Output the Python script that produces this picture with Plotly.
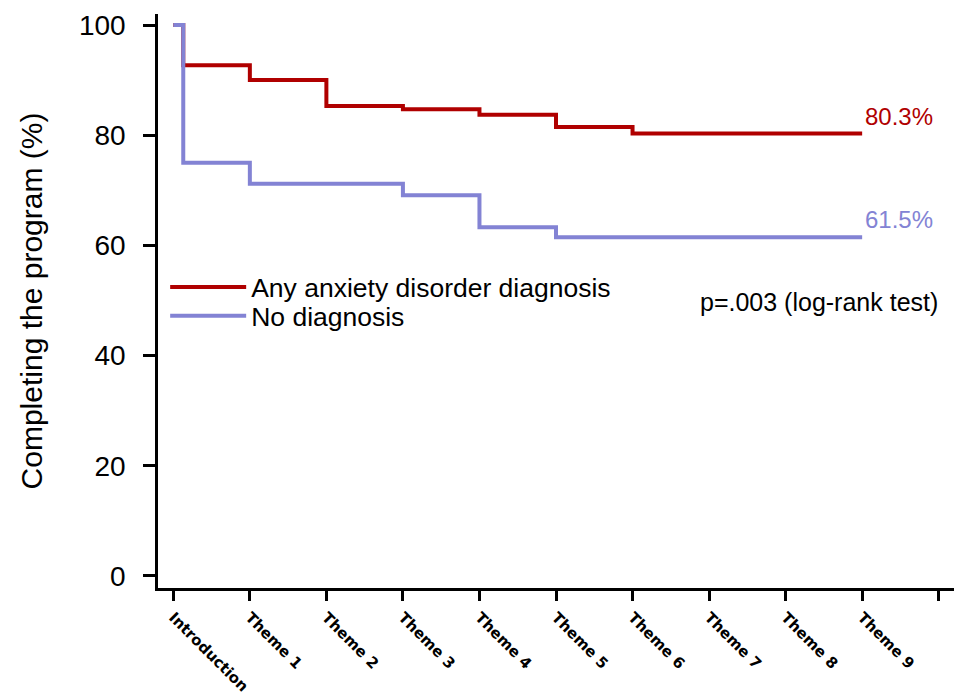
import plotly.graph_objects as go

# ---- data ----
stage_labels = ["Introduction", "Theme 1", "Theme 2", "Theme 3", "Theme 4",
                "Theme 5", "Theme 6", "Theme 7", "Theme 8", "Theme 9", ""]
stage_ticks = [0, 1, 2, 3, 4, 5, 6, 7, 8, 9, 10]

anx_x = [0, 0.13, 1, 2, 3, 4, 5, 6, 9]
anx_y = [100, 92.7, 90.0, 85.3, 84.7, 83.7, 81.5, 80.3, 80.3]

nod_x = [0, 0.13, 1, 3, 4, 5, 9]
nod_y = [100, 75.0, 71.2, 69.1, 63.3, 61.5, 61.5]

anx_name = "Any anxiety disorder diagnosis"
nod_name = "No diagnosis"
anx_end_label = "80.3%"
nod_end_label = "61.5%"
p_text = "p=.003 (log-rank test)"

RED = "#b00000"
BLUE = "#8383d4"
FONT = "Liberation Sans, Arial, sans-serif"

fig = go.Figure()
fig.add_trace(go.Scatter(x=anx_x, y=anx_y, mode="lines", line_shape="hv",
                         line=dict(color=RED, width=4), name=anx_name,
                         legend="legend"))
fig.add_trace(go.Scatter(x=nod_x, y=nod_y, mode="lines", line_shape="hv",
                         line=dict(color=BLUE, width=4), name=nod_name,
                         legend="legend2"))

fig.add_annotation(x=anx_x[-1], y=anx_y[-1], text=anx_end_label, showarrow=False,
                   xanchor="left", yanchor="bottom", xshift=1, yshift=2,
                   font=dict(family=FONT, size=24, color=RED))
fig.add_annotation(x=nod_x[-1], y=nod_y[-1], text=nod_end_label, showarrow=False,
                   xanchor="left", yanchor="bottom", xshift=1, yshift=2,
                   font=dict(family=FONT, size=24, color=BLUE))
fig.add_annotation(x=0.679, y=0.498, xref="paper", yref="paper", text=p_text,
                   showarrow=False, xanchor="left", yanchor="middle",
                   font=dict(family=FONT, size=25, color="black"))

legend_common = dict(xanchor="left", yanchor="middle",
                     bgcolor="rgba(0,0,0,0)", borderwidth=0,
                     font=dict(family=FONT, size=26.5, color="black"),
                     itemwidth=76, tracegroupgap=0)

fig.update_layout(
    width=956, height=697,
    margin=dict(l=158, r=2, t=14, b=109, autoexpand=False),
    paper_bgcolor="white", plot_bgcolor="white",
    font=dict(family=FONT, color="black"),
    showlegend=True,
    legend=dict(x=0.009, y=0.524, **legend_common),
    legend2=dict(x=0.009, y=0.474, **legend_common),
)
fig.update_xaxes(
    range=[-0.2, 10.2], tickvals=stage_ticks, ticktext=stage_labels,
    tickangle=45, ticks="outside", ticklen=10, tickwidth=2.5, tickcolor="black",
    ticklabelstandoff=2, automargin=False,
    showline=True, linecolor="black", linewidth=2.5, showgrid=False, zeroline=False,
    tickfont=dict(family="DejaVu Sans, Verdana, sans-serif", size=15,
                  color="black", weight="bold"),
)
fig.update_yaxes(
    range=[-2.18, 102.0], tickvals=[0, 20, 40, 60, 80, 100],
    ticks="outside", ticklen=12, tickwidth=2.5, tickcolor="black",
    ticklabelstandoff=12, automargin=False,
    showline=True, linecolor="black", linewidth=2.5, showgrid=False, zeroline=False,
    tickfont=dict(family=FONT, size=28, color="black"),
    title=dict(text="Completing the program (%)", standoff=28,
               font=dict(family=FONT, size=30, color="black")),
)

fig.write_html("out.html", config={"displayModeBar": False},
               post_script="document.body.style.margin='0';document.body.style.padding='0';")
